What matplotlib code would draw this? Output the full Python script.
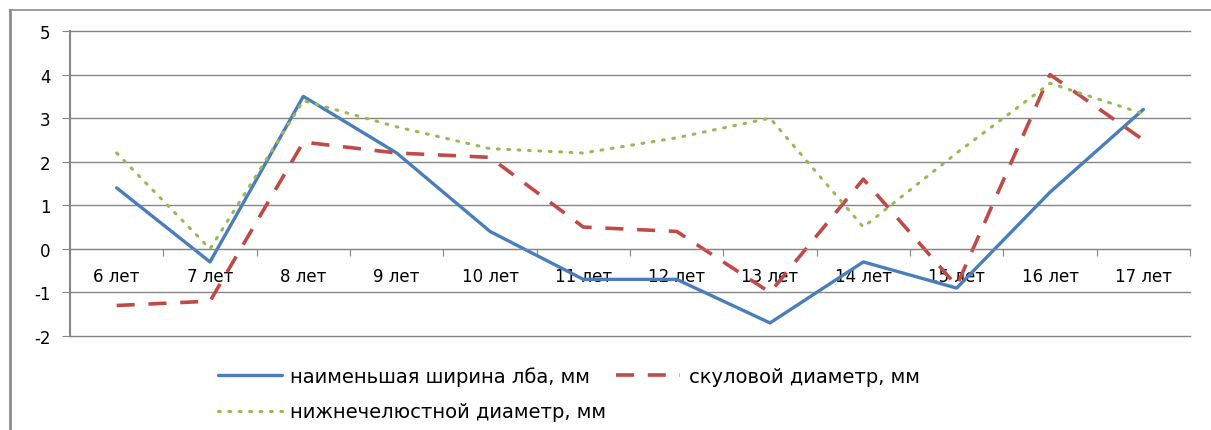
import numpy as np
import matplotlib.pyplot as plt
from matplotlib.lines import Line2D

plt.rcParams['axes.unicode_minus'] = False

ages = ['6 лет', '7 лет', '8 лет', '9 лет', '10 лет', '11 лет',
        '12 лет', '13 лет', '14 лет', '15 лет', '16 лет', '17 лет']
forehead = [1.4, -0.3, 3.5, 2.2, 0.4, -0.7, -0.7, -1.7, -0.3, -0.9, 1.3, 3.2]
zygomatic = [-1.3, -1.2, 2.45, 2.2, 2.1, 0.5, 0.4, -1.0, 1.6, -0.85, 4.0, 2.5]
mandibular = [2.2, 0.0, 3.4, 2.8, 2.3, 2.2, 2.55, 3.0, 0.5, 2.2, 3.8, 3.1]

names = ['наименьшая ширина лба, мм', 'скуловой диаметр, мм',
         'нижнечелюстной диаметр, мм']

grid_c = '#868686'
x = np.arange(len(ages))

fig = plt.figure(figsize=(12.11, 4.31), dpi=100)
ax = fig.add_axes([70 / 1211, 1 - 337 / 431, 1120 / 1211, 305 / 431])

l1, = ax.plot(x, forehead, color='#4a7ebb', lw=2.4, solid_capstyle='round')
l2, = ax.plot(x, zygomatic, color='#be4b48', lw=2.6, dashes=(5, 3.8))
l3, = ax.plot(x, mandibular, color='#98b954', lw=2.2, linestyle=(0, (0.6, 2.8)),
              dash_capstyle='round')

ax.set_xlim(-0.5, len(ages) - 0.5)
ax.set_ylim(-2, 5)
ax.set_yticks(range(-2, 6))
ax.yaxis.grid(True, color=grid_c, lw=1)
ax.set_axisbelow(True)
for gl in ax.get_ygridlines():
    gl.set_clip_on(False)

for s in ['top', 'right']:
    ax.spines[s].set_visible(False)
ax.spines['left'].set_color(grid_c)
ax.spines['left'].set_linewidth(1.5)
ax.spines['bottom'].set_position(('data', 0))
ax.spines['bottom'].set_color(grid_c)

# tick marks on category borders, labels in the middle
ax.set_xticks(np.arange(-0.5, len(ages)), [''] * (len(ages) + 1))
ax.set_xticks(x, ages, minor=True)
ax.tick_params(axis='x', which='major', direction='out', length=5, color=grid_c)
ax.tick_params(axis='x', which='minor', length=0, pad=13, labelsize=12)
ax.tick_params(axis='y', direction='out', length=6, color=grid_c, labelsize=12, pad=8)

fig.legend([l1, l3, l2], [names[0], names[2], names[1]], ncol=2,
           loc='lower left', bbox_to_anchor=(200 / 1211, -9 / 431),
           frameon=False, fontsize=14, handlelength=3.3, columnspacing=0.5,
           labelspacing=0.85, handletextpad=0.45)

# outer chart frame
fig.add_artist(Line2D([10 / 1211, 1], [1 - 11 / 431] * 2, color='#8c8c8c', lw=1.2))
fig.add_artist(Line2D([10 / 1211] * 2, [0, 1 - 11 / 431], color='#8c8c8c', lw=2))

fig.savefig('out.png', dpi=100)
